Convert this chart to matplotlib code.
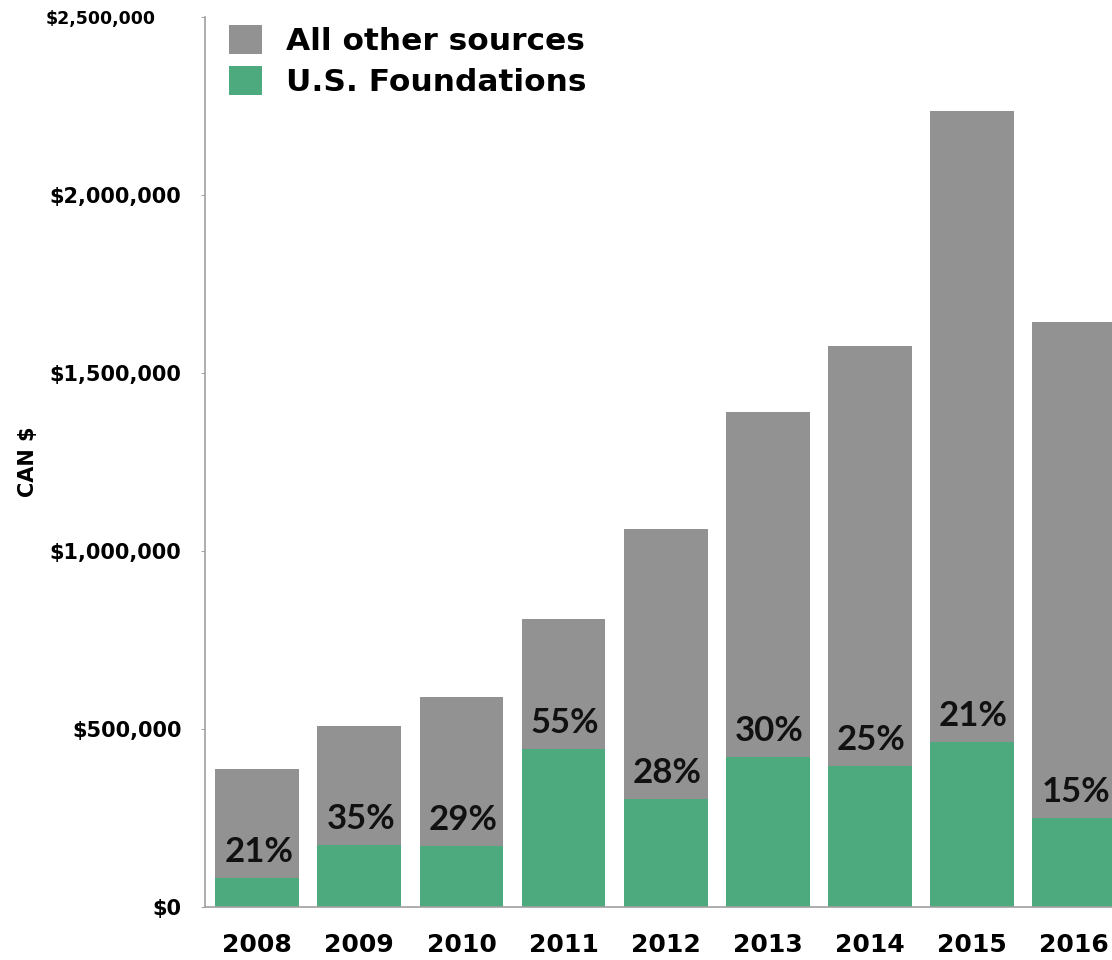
import matplotlib
matplotlib.use("Agg")
import matplotlib.pyplot as plt
from matplotlib.patches import Patch
from matplotlib.ticker import FuncFormatter
import matplotlib.transforms as mtransforms
import numpy as np

years = ["2008", "2009", "2010", "2011", "2012", "2013", "2014", "2015", "2016"]
total = [387000, 508000, 590000, 809000, 1062000, 1390000, 1576000, 2236000, 1643000]
us_foundations = [81000, 175000, 172000, 444000, 303000, 421000, 396000, 463000, 250000]
share_labels = ["21%", "35%", "29%", "55%", "28%", "30%", "25%", "21%", "15%"]

gray = "#929292"
green = "#4caa7e"
axis_font = "DejaVu Sans"
label_font = "Lato"

other = [t - u for t, u in zip(total, us_foundations)]
x = np.arange(len(years))

fig = plt.figure(figsize=(11.12, 9.6), dpi=100)
ax = fig.add_axes([0.1845, 0.0552, 0.8155, 0.927])

ax.bar(x, us_foundations, width=0.82, color=green, zorder=2)
ax.bar(x, other, width=0.82, bottom=us_foundations, color=gray, zorder=2)

for i in range(len(years)):
    ax.annotate(share_labels[i], (x[i], us_foundations[i]), xytext=(1, 7),
                textcoords="offset points", ha="center", va="bottom",
                fontsize=25, fontweight="bold", family=label_font, color="#111111")

ax.set_xlim(-0.51, 8.37)
ax.set_ylim(0, 2500000)
ax.set_yticks([0, 500000, 1000000, 1500000, 2000000, 2500000])
ax.yaxis.set_major_formatter(FuncFormatter(lambda v, p: "${:,.0f}".format(v)))
ax.set_xticks(x)
ax.set_xticklabels(years)

ax.tick_params(axis="y", length=3, color="#aaaaaa", pad=14)
ax.tick_params(axis="x", length=0, pad=19)

for lab in ax.get_yticklabels():
    lab.set_fontsize(15)
    lab.set_fontweight("bold")
    lab.set_family(axis_font)
for lab in ax.get_xticklabels():
    lab.set_fontsize(18)
    lab.set_fontweight("bold")
    lab.set_family(axis_font)

# the top label is smaller and sits further left than the rest
top_lab = ax.yaxis.get_major_ticks()[-1].label1
top_lab.set_fontsize(12.5)
top_lab.set_transform(top_lab.get_transform() +
                      mtransforms.ScaledTranslation(-26 / 100, 0, fig.dpi_scale_trans))

ax.spines["top"].set_visible(False)
ax.spines["right"].set_visible(False)
ax.spines["left"].set_color("#a0a0a0")
ax.spines["bottom"].set_color("#a0a0a0")
ax.spines["left"].set_linewidth(1.2)
ax.spines["bottom"].set_linewidth(1.2)

ax.set_ylabel("CAN $", fontsize=15, fontweight="bold", family=axis_font)
ax.yaxis.set_label_coords(-0.184, 0.5)

handles = [Patch(facecolor=gray, label="All other sources"),
           Patch(facecolor=green, label="U.S. Foundations")]
leg = fig.legend(handles=handles, loc="upper left", bbox_to_anchor=(0.181, 1.003),
                 frameon=False, handlelength=1.05, handleheight=1.05,
                 handletextpad=0.75, labelspacing=0.3,
                 prop={"family": axis_font, "weight": "bold", "size": 22.5})

fig.savefig("out.png", dpi=100)
